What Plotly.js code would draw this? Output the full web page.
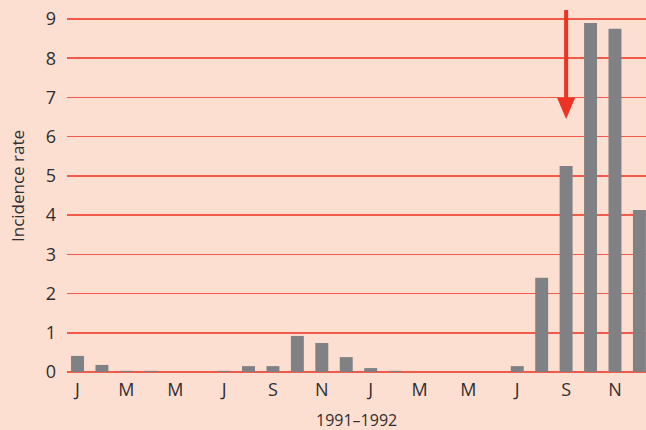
<!DOCTYPE html>
<html><head><meta charset="utf-8">
<script src="https://cdn.plot.ly/plotly-3.0.1.min.js"></script>
<style>html,body{margin:0;padding:0;background:#fddfd2;}#c{width:646px;height:430px;}</style>
</head><body><div id="c"></div>
<script>
const months = ["Jan 1991","Feb 1991","Mar 1991","Apr 1991","May 1991","Jun 1991","Jul 1991","Aug 1991","Sep 1991","Oct 1991","Nov 1991","Dec 1991",
"Jan 1992","Feb 1992","Mar 1992","Apr 1992","May 1992","Jun 1992","Jul 1992","Aug 1992","Sep 1992","Oct 1992","Nov 1992","Dec 1992"];
const incidence = [0.41,0.18,0.03,0.03,0,0,0.03,0.15,0.15,0.92,0.74,0.38,
0.1,0.03,0,0,0,0,0.15,2.4,5.25,8.9,8.75,4.13];
const tickLabels = ["J","M","M","J","S","N","J","M","M","J","S","N"];
const yTicks = [0,1,2,3,4,5,6,7,8,9];
const xTitle = '1991–1992';
const arrowMonth = 20;      // Sep 1992
const arrowTail = 9.23, arrowHeadBase = 6.99, arrowTip = 6.45;

const idx = months.map((m,i)=>i);
const tickIdx = idx.filter(i=>i%2===0);

const trace = {type:'bar', x: idx, y: incidence, marker:{color:'#808185'}, hoverinfo:'skip'};
const headHalf = 0.37;
const FONT = '"Open Sans", "Noto Sans", sans-serif';
const layout = {
  width:646, height:430,
  margin:{l:67,r:0,t:0,b:58},
  paper_bgcolor:'#fddfd2', plot_bgcolor:'#fddfd2',
  showlegend:false, bargap:0.47,
  font:{family:FONT, color:'#2e2e2e', size:17},
  xaxis:{range:[-0.43,23.27], tickvals:tickIdx, ticktext:tickLabels, showgrid:false, zeroline:false,
         showline:false, ticks:'', ticklabelstandoff:5, fixedrange:true,
         tickfont:{family:FONT, size:18, color:'#2e2e2e'}},
  yaxis:{range:[0,9.485], tickvals:yTicks, showgrid:true, gridcolor:'#f25a4a', gridwidth:1.5,
         zeroline:true, zerolinecolor:'#f25a4a', zerolinewidth:1.5, showline:false, ticks:'',
         ticklabelstandoff:10, fixedrange:true,
         tickfont:{family:FONT, size:18, color:'#2e2e2e'},
         title:{text:'Incidence rate', font:{size:17}, standoff:16}},
  annotations:[
    {text:xTitle, xref:'paper', yref:'paper', x:0.5, y:-58/372, xanchor:'center', yanchor:'bottom',
     showarrow:false, font:{family:FONT, size:16, color:'#2e2e2e'}, borderpad:0, yshift:-2}
  ],
  shapes:[
    {type:'line', xref:'x', yref:'y', x0:arrowMonth, x1:arrowMonth, y0:arrowTail, y1:arrowHeadBase,
     line:{color:'#ee3224', width:4}},
    {type:'path', xref:'x', yref:'y',
     path:`M ${arrowMonth-headHalf},${arrowHeadBase} L ${arrowMonth+headHalf},${arrowHeadBase} L ${arrowMonth},${arrowTip} Z`,
     fillcolor:'#ee3224', line:{width:0}}
  ]
};
Plotly.newPlot('c',[trace],layout,{displayModeBar:false,staticPlot:true});
</script></body></html>
